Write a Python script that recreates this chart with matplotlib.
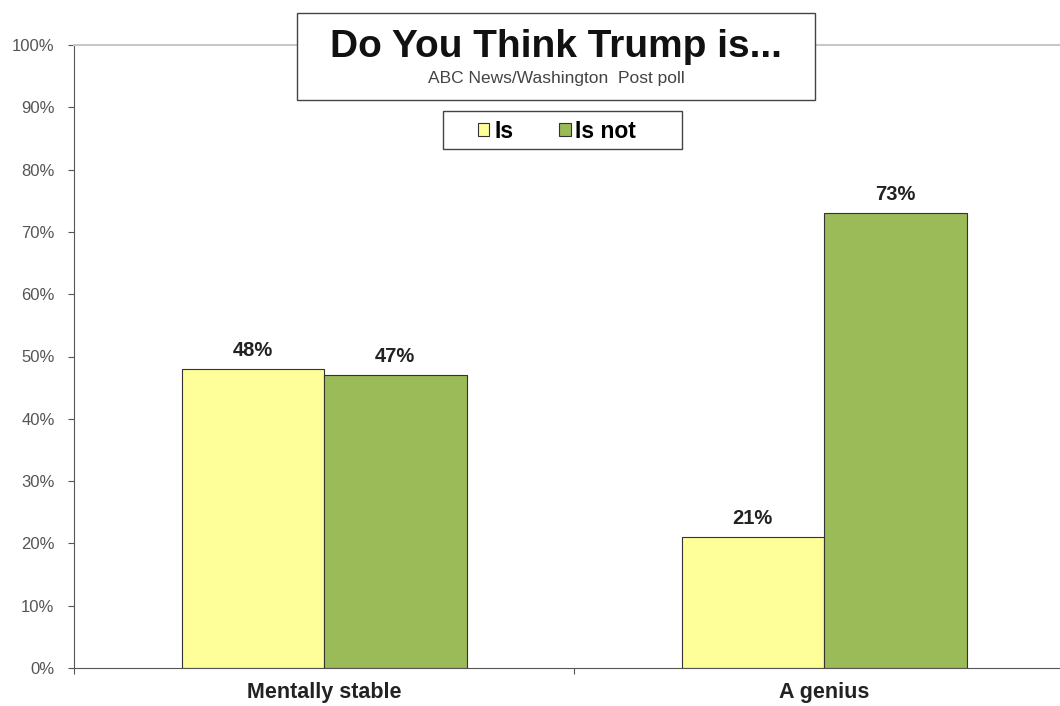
import numpy as np
import matplotlib.pyplot as plt
from matplotlib.patches import Rectangle

plt.rcParams['font.family'] = ['Liberation Sans', 'DejaVu Sans']

# data
categories = ["Mentally stable", "A genius"]
series_names = ["Is", "Is not"]
is_vals = [48, 21]
is_not_vals = [47, 73]
y_ticks = [0, 10, 20, 30, 40, 50, 60, 70, 80, 90, 100]

col_is = '#FFFF99'
col_not = '#9BBB59'

W, H = 1060, 706
fig = plt.figure(figsize=(W / 100, H / 100), dpi=100)
ax = fig.add_axes([74 / W, 38 / H, 1000 / W, 623 / H])

x = np.arange(len(categories))
w = 0.285
b1 = ax.bar(x - w / 2, is_vals, w, color=col_is, edgecolor='#333333', linewidth=0.8, label=series_names[0])
b2 = ax.bar(x + w / 2, is_not_vals, w, color=col_not, edgecolor='#333333', linewidth=0.8, label=series_names[1])

for bars in (b1, b2):
    for r in bars:
        ax.text(r.get_x() + r.get_width() / 2, r.get_height() + 1.5, f"{r.get_height():.0f}%",
                ha='center', va='bottom', fontsize=14.5, fontweight='bold', color='#222222')

ax.set_xlim(-0.5, len(categories) - 0.5)
ax.set_ylim(0, 100)
ax.set_yticks(y_ticks)
ax.set_yticklabels([f"{t}%" for t in y_ticks], fontsize=12, color='#555555')
ax.tick_params(axis='y', direction='out', length=4, width=0.8, color='#555555', pad=10)

ax.set_xticks(x)
ax.set_xticklabels(categories, fontsize=15.5, fontweight='bold', color='#222222')
ax.tick_params(axis='x', which='major', length=0, pad=10)
ax.set_xticks(np.arange(len(categories) + 1) - 0.5, minor=True)
ax.tick_params(axis='x', which='minor', direction='out', length=4, width=0.8, color='#555555')

ax.spines['top'].set_color('#c8c8c8')
ax.spines['top'].set_linewidth(1.5)
ax.spines['right'].set_visible(False)
ax.spines['left'].set_color('#555555')
ax.spines['bottom'].set_color('#555555')

# title box
fig.patches.append(Rectangle((297 / W, 1 - 100 / H), 518 / W, 87 / H,
                             transform=fig.transFigure, facecolor='white',
                             edgecolor='#444444', linewidth=1.0, zorder=5))
fig.text(556 / W, 1 - 57 / H, "Do You Think Trump is...", ha='center', va='baseline',
         fontsize=28, fontweight='bold', color='#111111', zorder=6)
fig.text(556 / W, 1 - 83 / H, "ABC News/Washington  Post poll", ha='center', va='baseline',
         fontsize=12.5, color='#444444', zorder=6)

# legend box
fig.patches.append(Rectangle((443 / W, 1 - 149 / H), 239 / W, 38 / H,
                             transform=fig.transFigure, facecolor='white',
                             edgecolor='#444444', linewidth=1.0, zorder=5))
leg = fig.legend(handles=[b1, b2], labels=series_names, loc='center',
                 bbox_to_anchor=(557 / W, 1 - 131 / H), ncol=2, frameon=False,
                 handlelength=0.5, handleheight=0.5,
                 handletextpad=0.2, columnspacing=2.0, borderpad=0, borderaxespad=0,
                 prop={'size': 16.5, 'weight': 'bold'})
leg.set_zorder(7)

plt.savefig("out.png", dpi=100)
